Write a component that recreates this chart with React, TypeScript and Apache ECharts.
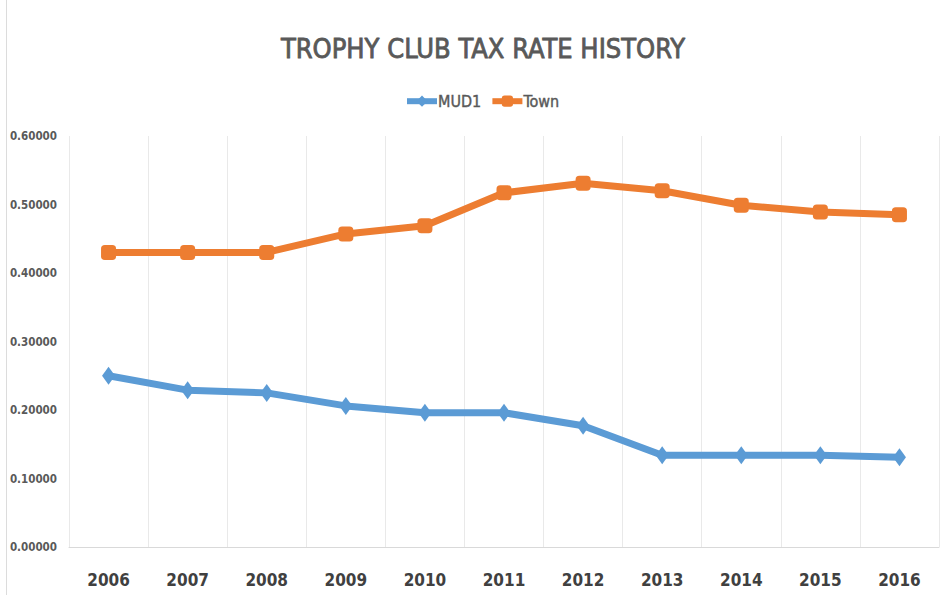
import React, { useEffect, useRef } from "react";
import * as echarts from "echarts";

const years = ["2006", "2007", "2008", "2009", "2010", "2011", "2012", "2013", "2014", "2015", "2016"];
const mud1 = [0.25, 0.229, 0.225, 0.206, 0.196, 0.196, 0.177, 0.134, 0.134, 0.134, 0.131];
const town = [0.43, 0.43, 0.43, 0.457, 0.469, 0.517, 0.531, 0.52, 0.499, 0.489, 0.485];
const yTicks = { min: 0, max: 0.6, interval: 0.1 };

const FONT = "'DejaVu Sans Condensed', 'Open Sans', sans-serif";

export default function App() {
  const ref = useRef<HTMLDivElement>(null);
  useEffect(() => {
    const chart = echarts.init(ref.current!, undefined, { renderer: "svg" });
    chart.setOption({
      animation: false,
      backgroundColor: "#ffffff",
      title: {
        text: "TROPHY CLUB TAX RATE HISTORY",
        left: 478,
        textAlign: "center",
        top: 30,
        textStyle: {
          fontFamily: FONT,
          fontSize: 27,
          fontWeight: "normal",
          color: "#595959",
          textBorderColor: "#595959",
          textBorderWidth: 0.8,
        },
      },
      legend: {
        top: 88,
        left: 399,
        itemWidth: 30,
        itemHeight: 14,
        itemGap: 8,
        lineStyle: { width: 6 },
        textStyle: {
          fontFamily: FONT,
          fontSize: 16,
          color: "#595959",
          textBorderColor: "#595959",
          textBorderWidth: 0.4,
          padding: [0, 0, 0, -4],
        },
        data: ["MUD1", "Town"],
      },
      grid: { left: 69, right: 1, top: 136, bottom: 48, containLabel: false },
      xAxis: {
        type: "category",
        data: years,
        boundaryGap: true,
        axisLine: { lineStyle: { color: "#d9d9d9", width: 1 } },
        axisTick: { show: false },
        splitLine: { show: true, lineStyle: { color: "#e9e9e9", width: 1 } },
        axisLabel: { margin: 24, fontFamily: FONT, fontSize: 17, fontWeight: "bold", color: "#404040" },
      },
      yAxis: {
        type: "value",
        min: yTicks.min,
        max: yTicks.max,
        interval: yTicks.interval,
        axisLine: { show: false },
        axisTick: { show: false },
        splitLine: { show: false },
        axisLabel: {
          margin: 12,
          fontFamily: FONT,
          fontSize: 11.5,
          fontWeight: "bold",
          color: "#595959",
          formatter: (v: number) => v.toFixed(5),
        },
      },
      graphic: [
        { type: "line", shape: { x1: 6.5, y1: 0, x2: 6.5, y2: 595 }, style: { stroke: "#dcdcdc", lineWidth: 1 } },
      ],
      series: [
        {
          name: "MUD1",
          type: "line",
          data: mud1,
          symbol: "diamond",
          symbolSize: [13, 18],
          lineStyle: { color: "#5b9bd5", width: 7 },
          itemStyle: { color: "#5b9bd5" },
        },
        {
          name: "Town",
          type: "line",
          data: town,
          symbol: "roundRect",
          symbolSize: 15,
          lineStyle: { color: "#ed7d31", width: 7 },
          itemStyle: { color: "#ed7d31" },
        },
      ],
    });
    return () => chart.dispose();
  }, []);
  return <div ref={ref} style={{ width: 940, height: 595, position: "absolute", left: 0, top: 0 }} />;
}
